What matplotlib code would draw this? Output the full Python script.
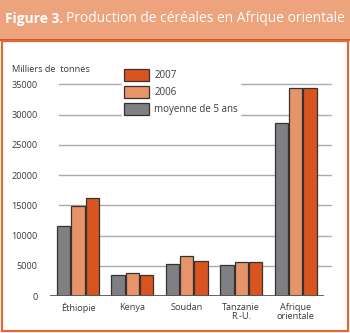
import numpy as np
import matplotlib
matplotlib.use('Agg')
import matplotlib.pyplot as plt
from matplotlib.patches import Rectangle, Patch

plt.rcParams['font.family'] = ['Open Sans', 'DejaVu Sans']

# Données (milliers de tonnes)
regions = ['Éthiopie', 'Kenya', 'Soudan', 'Tanzanie\nR.-U.', 'Afrique\norientale']
moyenne_5ans = [11500, 3400, 5250, 5100, 28600]
prod_2006 = [14900, 3750, 6600, 5600, 34400]
prod_2007 = [16200, 3400, 5800, 5600, 34450]
yticks = [0, 5000, 10000, 15000, 20000, 25000, 30000, 35000]

c_gris = '#808084'
c_clair = '#E8946A'
c_fonce = '#D9541F'
c_titre = '#EDA47C'
c_bord = '#E06A36'

W, H = 350, 333
fig = plt.figure(figsize=(W / 100, H / 100), dpi=100)

# bandeau du titre + cadre
fig.patches.append(Rectangle((0, 1 - 39 / H), 1, 39 / H, transform=fig.transFigure,
                             facecolor=c_titre, edgecolor='none', zorder=0))
fig.patches.append(Rectangle((0, 1 - 41 / H), 1, 2.5 / H, transform=fig.transFigure,
                             facecolor=c_fonce, edgecolor='none', zorder=1))
fig.patches.append(Rectangle((1.5 / W, 2 / H), 346.5 / W, (H - 41 - 2) / H, transform=fig.transFigure,
                             facecolor='none', edgecolor=c_bord, linewidth=1.6, zorder=1))

t1 = fig.text(5 / W, 1 - 19 / H, 'Figure 3.', color='white', fontsize=9.9,
              fontweight='bold', va='center', ha='left')
fig.canvas.draw()
bb = t1.get_window_extent(fig.canvas.get_renderer())
fig.text(bb.x1 / W + 3 / W, 1 - 19 / H, 'Production de céréales en Afrique orientale',
         color='white', fontsize=9.9, va='center', ha='left')

# axes
ax = fig.add_axes([50 / W, (H - 296) / H, 282 / W, (296 - 72.2) / H])
x = np.arange(len(regions))
w = 0.245
d = 0.263
ax.bar(x - d, moyenne_5ans, w, color=c_gris, edgecolor='#333333', linewidth=0.9, zorder=3)
ax.bar(x, prod_2006, w, color=c_clair, edgecolor='#333333', linewidth=0.9, zorder=3)
ax.bar(x + d, prod_2007, w, color=c_fonce, edgecolor='#333333', linewidth=0.9, zorder=3)

ax.set_xlim(-0.515, 4.67)
ax.set_ylim(0, 37000)
for yv in yticks[1:]:
    ax.axhline(yv, xmin=9 / 282, xmax=1, color='#ABABAB', linewidth=1, zorder=1)
ax.axhline(0, xmin=0, xmax=272 / 282, color='#555555', linewidth=2, zorder=4)

for s in ax.spines.values():
    s.set_visible(False)
ax.set_yticks(yticks)
ax.set_yticklabels([str(v) for v in yticks])
ax.set_xticks(x)
ax.set_xticklabels(regions, linespacing=1.0)
ax.tick_params(length=0, labelsize=6.6, colors='#3A3A3A')
ax.tick_params(axis='y', pad=9)
ax.tick_params(axis='x', pad=5)

fig.text(12 / W, 1 - 70 / H, 'Milliers de  tonnes', fontsize=6.6, color='#3A3A3A',
         va='center', ha='left')

# légende
handles = [Patch(facecolor=c_fonce, edgecolor='#333333', linewidth=0.9),
           Patch(facecolor=c_clair, edgecolor='#333333', linewidth=0.9),
           Patch(facecolor=c_gris, edgecolor='#333333', linewidth=0.9)]
leg = ax.legend(handles, ['2007', '2006', 'moyenne de 5 ans'], loc='upper left',
                bbox_to_anchor=(72 / 282, 1.025), frameon=True, fontsize=7,
                handlelength=2.6, handleheight=1.55, handletextpad=0.5,
                labelspacing=0.5, borderpad=0.2, borderaxespad=0)
leg.get_frame().set_facecolor('white')
leg.get_frame().set_edgecolor('white')
leg.get_frame().set_alpha(1)
leg.set_zorder(5)
for t in leg.get_texts():
    t.set_color('#3A3A3A')

fig.savefig('out.png', dpi=100)
